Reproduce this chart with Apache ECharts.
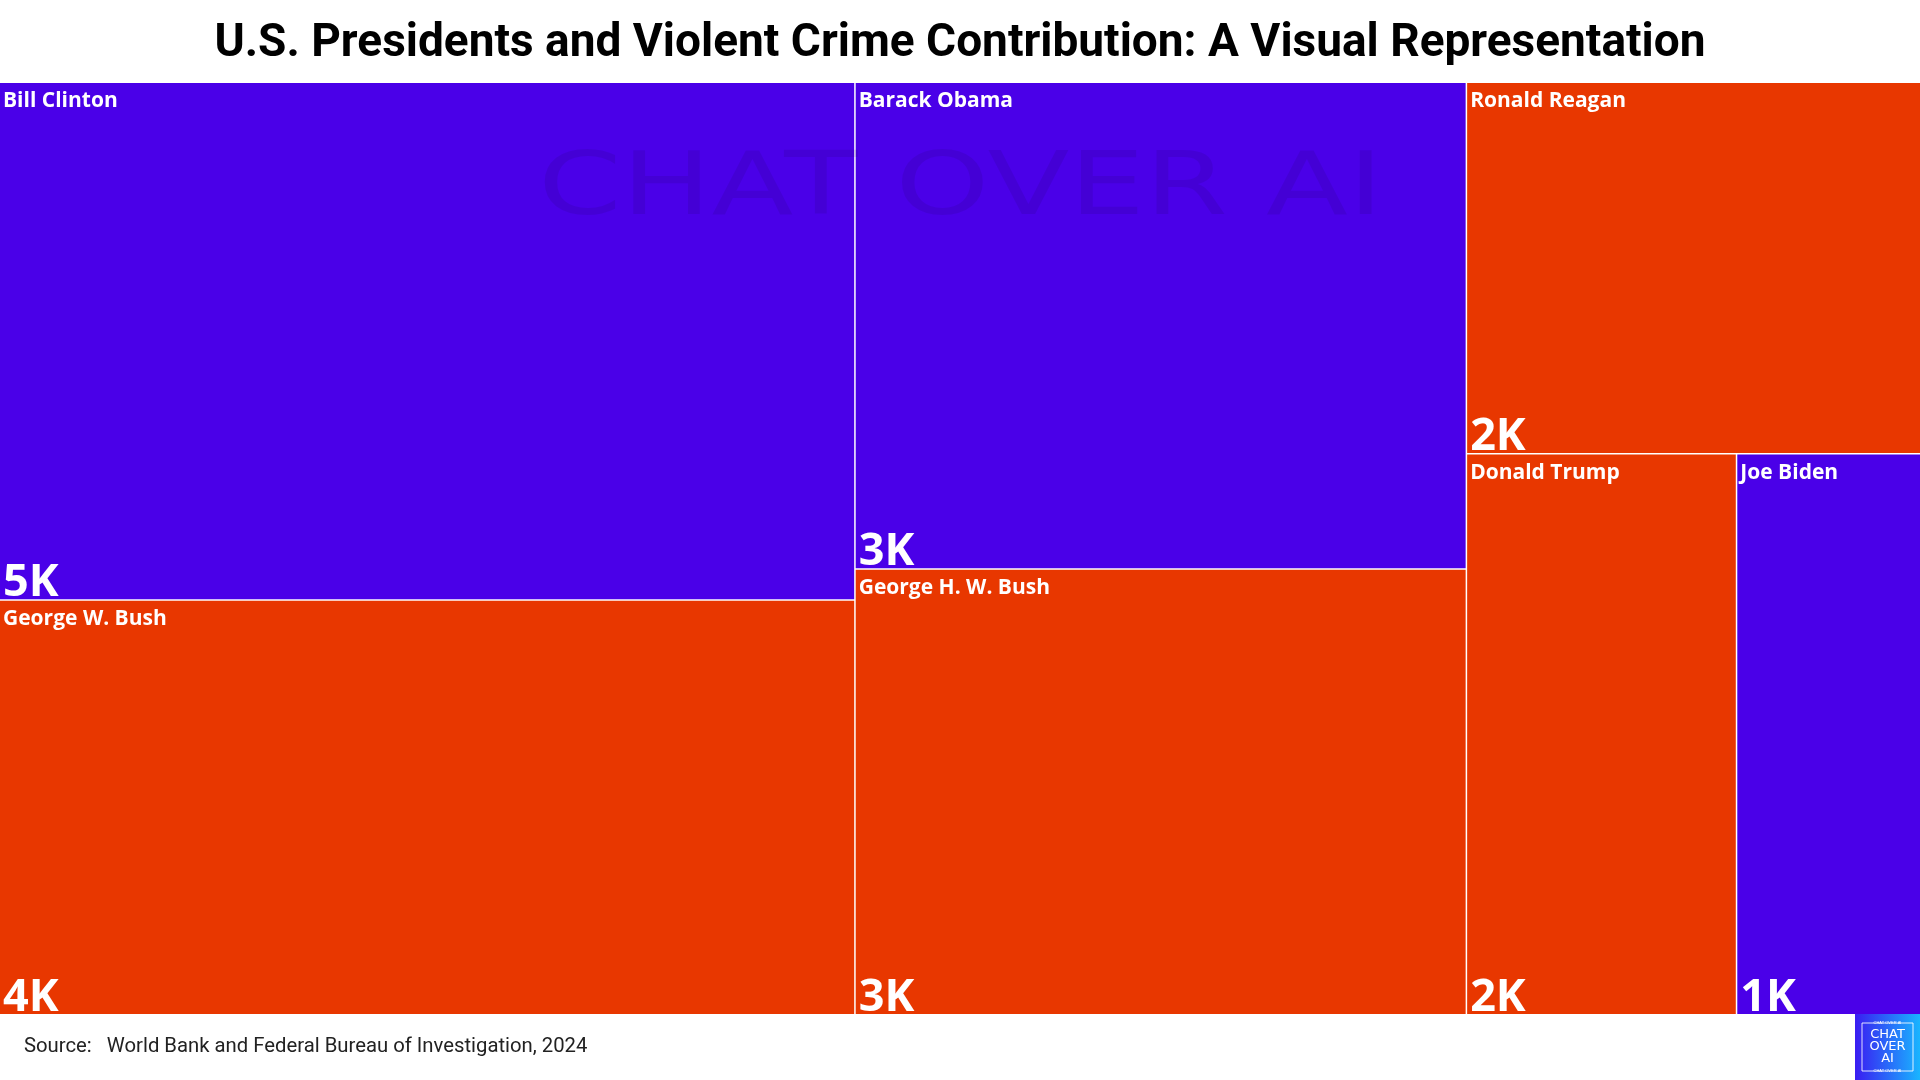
<!DOCTYPE html>
<html>
<head>
<meta charset="utf-8">
<script src="https://cdn.jsdelivr.net/npm/echarts@6/dist/echarts.min.js"></script>
<style>
html,body{margin:0;padding:0;background:#fff;}
#main{width:1920px;height:1080px;}
</style>
</head>
<body>
<div id="main"></div>
<script>
// ---- data ----
const titleText = 'U.S. Presidents and Violent Crime Contribution: A Visual Representation';
const sourceText = 'Source:   World Bank and Federal Bureau of Investigation, 2024';
const presidents = ['Bill Clinton', 'George W. Bush', 'Barack Obama', 'George H. W. Bush', 'Ronald Reagan', 'Donald Trump', 'Joe Biden'];
const values = [5000, 4004, 3359, 3075, 1905, 1710, 1166];
const parties = ['Democratic', 'Republican', 'Democratic', 'Republican', 'Republican', 'Republican', 'Democratic'];
const partyColors = { Democratic: '#4A00E8', Republican: '#E83700' };

function fmtK(v) { return Math.round(v / 1000) + 'K'; }

const nameData = presidents.map((n, i) => ({
  name: n, value: values[i], itemStyle: { color: partyColors[parties[i]] }
}));
const valueData = presidents.map((n, i) => ({
  name: n, value: values[i], itemStyle: { color: 'rgba(0,0,0,0)' }
}));

const box = { left: 0, right: 0, top: 83, bottom: 66 };

const chart = echarts.init(document.getElementById('main'), null, { renderer: 'canvas' });
chart.setOption({
  animation: false,
  backgroundColor: '#ffffff',
  title: {
    text: titleText,
    left: 'center',
    top: 16,
    textStyle: { fontFamily: 'Roboto', fontWeight: 'bold', fontSize: 46, color: '#000' }
  },
  series: [
    {
      type: 'treemap',
      left: box.left, right: box.right, top: box.top, bottom: box.bottom,
      roam: false, nodeClick: false,
      breadcrumb: { show: false },
      squareRatio: 0.5 * (1 + Math.sqrt(5)),
      levels: [{ itemStyle: { borderWidth: 0, gapWidth: 1.5, borderColor: '#ffffff' } }],
      itemStyle: { borderWidth: 0 },
      label: {
        show: true,
        position: 'insideTopLeft',
        distance: 0,
        padding: [8, 0, 0, 3],
        formatter: p => p.name,
        color: '#fff',
        fontFamily: 'Open Sans',
        fontWeight: 'bold',
        fontSize: 21
      },
      data: nameData
    },
    {
      type: 'treemap',
      left: box.left, right: box.right, top: box.top, bottom: box.bottom,
      roam: false, nodeClick: false, silent: true,
      breadcrumb: { show: false },
      squareRatio: 0.5 * (1 + Math.sqrt(5)),
      levels: [{ itemStyle: { borderWidth: 0, gapWidth: 1.5, borderColor: 'rgba(0,0,0,0)' } }],
      itemStyle: { borderWidth: 0, color: 'rgba(0,0,0,0)' },
      label: {
        show: true,
        position: 'insideBottomLeft',
        distance: 0,
        padding: [0, 0, 0, 3],
        lineHeight: 32,
        formatter: p => fmtK(p.value),
        color: '#fff',
        fontFamily: 'Open Sans',
        fontWeight: 'bold',
        fontSize: 45
      },
      data: valueData
    }
  ],
  graphic: [
    {
      type: 'text', z: 100, silent: true,
      x: 538, y: 191, scaleX: 1.36,
      style: {
        text: 'CHAT OVER AI', fill: 'rgba(0,0,0,0.08)',
        font: 'normal 88px "DejaVu Sans"', textVerticalAlign: 'middle'
      }
    },
    {
      type: 'text', z: 100,
      x: 24, y: 1047,
      style: {
        text: sourceText, fill: '#222',
        font: 'normal 20.3px Roboto', textVerticalAlign: 'middle'
      }
    },
    {
      type: 'group', x: 1855, y: 1014, z: 100,
      children: [
        {
          type: 'rect', shape: { x: 0, y: 0, width: 65, height: 66 },
          style: {
            fill: new echarts.graphic.LinearGradient(0, 0, 1, 0, [
              { offset: 0, color: '#3A1CF2' }, { offset: 1, color: '#19B5FF' }
            ])
          }
        },
        {
          type: 'rect', shape: { x: 7, y: 9, width: 51, height: 48 },
          style: { fill: 'none', stroke: 'rgba(255,255,255,0.85)', lineWidth: 1 }
        },
        { type: 'text', x: 32.5, y: 9, style: { text: 'CHAT OVER AI', fill: '#fff', font: '4px sans-serif', textAlign: 'center', textVerticalAlign: 'middle' } },
        { type: 'text', x: 32.5, y: 57, style: { text: 'CHAT OVER AI', fill: '#fff', font: '4px sans-serif', textAlign: 'center', textVerticalAlign: 'middle' } },
        { type: 'text', x: 32.5, y: 21, style: { text: 'CHAT', fill: '#fff', font: '13px "DejaVu Sans"', textAlign: 'center', textVerticalAlign: 'middle' } },
        { type: 'text', x: 32.5, y: 33, style: { text: 'OVER', fill: '#fff', font: '13px "DejaVu Sans"', textAlign: 'center', textVerticalAlign: 'middle' } },
        { type: 'text', x: 32.5, y: 45, style: { text: 'AI', fill: '#fff', font: '13px "DejaVu Sans"', textAlign: 'center', textVerticalAlign: 'middle' } }
      ]
    }
  ]
});
</script>
</body>
</html>
